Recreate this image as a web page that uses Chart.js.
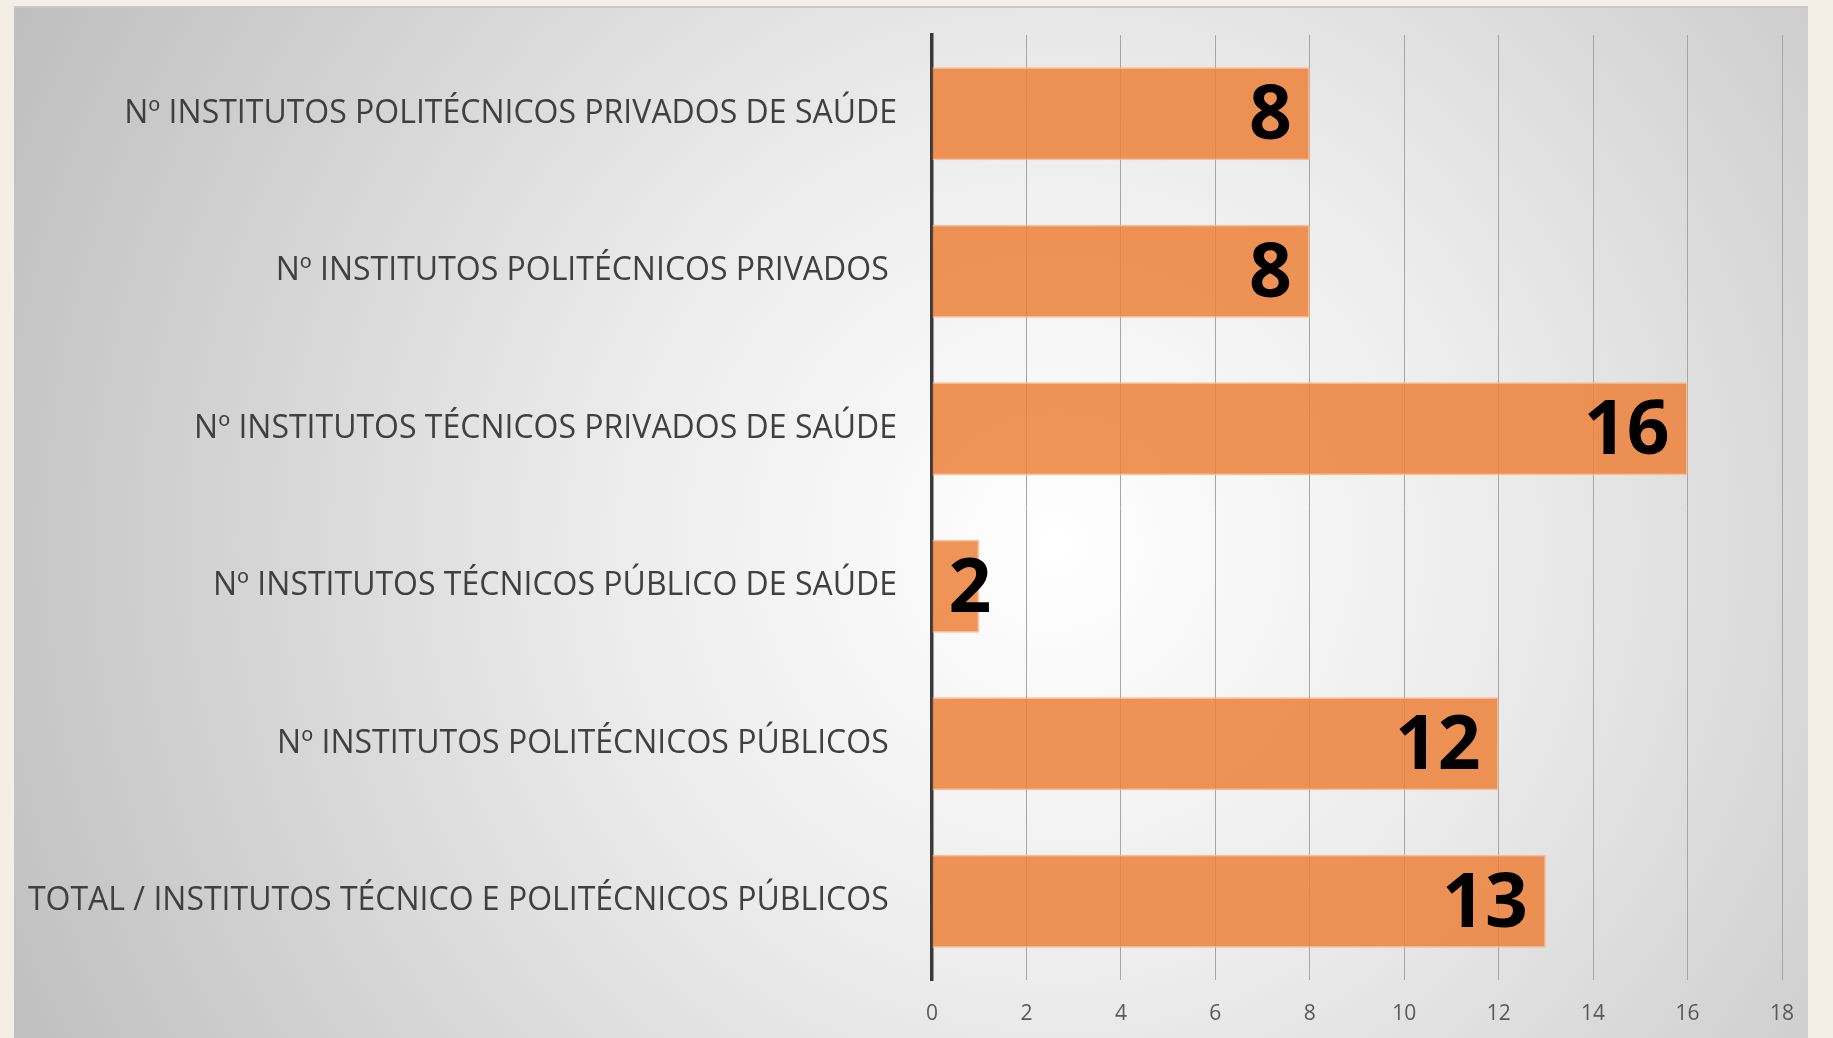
<!DOCTYPE html>
<html>
<head>
<meta charset="utf-8">
<script src="https://cdn.jsdelivr.net/npm/chart.js@4"></script>
<style>
  html, body { margin: 0; padding: 0; background: #f3eee6; overflow: hidden; }
  #panel {
    position: absolute; left: 14px; top: 6px; width: 1794px; height: 1032px;
    border-top: 2px solid #c9c9c9;
    background: radial-gradient(circle farthest-corner at 58% 52%, #ffffff 0%, #ececec 38%, #bebebe 100%);
  }
  #wrap { position: absolute; left: 0; top: 0; width: 1833px; height: 1038px; }
</style>
</head>
<body>
<div id="panel"></div>
<div id="wrap"><canvas id="chart"></canvas></div>
<script>
// categorias (de cima para baixo)
const categorias = [
  'Nº INSTITUTOS POLITÉCNICOS PRIVADOS DE SAÚDE',
  'Nº INSTITUTOS POLITÉCNICOS PRIVADOS ',
  'Nº INSTITUTOS TÉCNICOS PRIVADOS DE SAÚDE',
  'Nº INSTITUTOS TÉCNICOS PÚBLICO DE SAÚDE',
  'Nº INSTITUTOS POLITÉCNICOS PÚBLICOS ',
  'TOTAL / INSTITUTOS TÉCNICO E POLITÉCNICOS PÚBLICOS '
];
// comprimento das barras, como aparece no gráfico
const valores = [8, 8, 16, 1, 12, 13];
// rótulos escritos sobre as barras
const rotulos = ['8', '8', '16', '2', '12', '13'];
const eixoX = { min: 0, max: 18, passo: 2 };

// rótulos grandes no fim de cada barra
const rotulosBarras = {
  id: 'rotulosBarras',
  afterDatasetsDraw(chart) {
    const ctx = chart.ctx;
    const meta = chart.getDatasetMeta(0);
    ctx.save();
    ctx.font = 'bold 75px "Open Sans"';
    ctx.fillStyle = '#000';
    ctx.textAlign = 'right';
    ctx.textBaseline = 'middle';
    meta.data.forEach((bar, i) => {
      const txt = rotulos[i];
      const w = ctx.measureText(txt).width;
      const x = Math.max(bar.x - 18, bar.base + 16 + w);
      ctx.fillText(txt, x, bar.y + 4);
    });
    ctx.restore();
  }
};

new Chart(document.getElementById('chart'), {
  type: 'bar',
  data: {
    labels: categorias,
    datasets: [{
      data: valores,
      backgroundColor: 'rgba(236,128,56,0.85)',
      borderColor: 'rgba(248,185,140,0.9)',
      borderWidth: 1.5,
      borderSkipped: 'start',
      barPercentage: 0.59,
      categoryPercentage: 1
    }]
  },
  options: {
    indexAxis: 'y',
    responsive: true,
    maintainAspectRatio: false,
    animation: false,
    layout: { padding: { top: 35, right: 51, bottom: 0, left: 0 } },
    plugins: { legend: { display: false }, tooltip: { enabled: false } },
    scales: {
      x: {
        min: eixoX.min,
        max: eixoX.max,
        ticks: {
          stepSize: eixoX.passo,
          color: '#595959',
          font: { family: 'Open Sans', size: 21 },
          padding: 21
        },
        grid: { color: '#a6a6a6', lineWidth: 1, drawTicks: false },
        border: { display: false },
        afterFit(scale) { scale.height = 58; scale.paddingLeft = 0; scale.paddingRight = 0; }
      },
      y: {
        ticks: {
          color: '#404040',
          font: { family: 'Open Sans', size: 32 },
          padding: 35
        },
        grid: { display: false, drawTicks: false },
        border: { color: '#3a3a3a', width: 3.5 },
        afterFit(scale) { scale.width = 932; scale.paddingTop = 0; scale.paddingBottom = 0; }
      }
    }
  },
  plugins: [rotulosBarras]
});
</script>
</body>
</html>
